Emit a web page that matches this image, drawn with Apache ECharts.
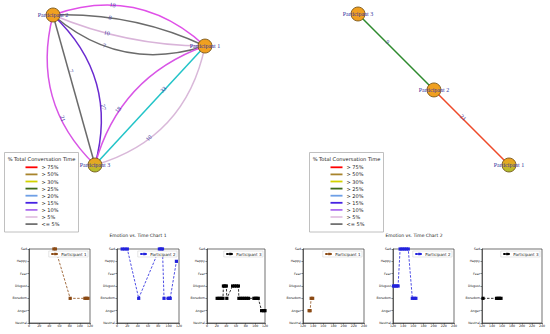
<!DOCTYPE html>
<html><head><meta charset="utf-8">
<script src="https://cdn.jsdelivr.net/npm/echarts@6/dist/echarts.min.js"></script>
<style>html,body{margin:0;padding:0;background:#fff}#c{width:550px;height:334px}</style>
</head><body><div id="c"></div>
<script>
// ---------- data ----------
const emotionLevels = ['Neutral','Anger','Boredom','Disgust','Fear','Happy','Sad'];
const timeRange1 = [0, 120];
const timeRange2 = [120, 240];

// Emotion vs. Time Chart 1  ([time, emotion index])
const chart1Participant1 = [[49,6],[52,6],[81,2],[110,2],[113,2],[116,2]];
const chart1Participant2 = [[10,6],[15,6],[20,6],[42,2],[82,6],[85,6],[88,6],[91,2],[99,2],[101,2],[103,2],[115,5]];
const chart1Participant3 = [[21,2],[25,2],[29,2],[33,2],[34,3],[37,3],[40,3],[41,2],[53,3],[57,3],[61,3],[65,3],[66,2],[70,2],[74,2],[78,2],[82,2],[86,2],[97,2],[100,2],[103,2],[106,2],[113,1],[117,1],[120,1]];
// Emotion vs. Time Chart 2
const chart2Participant1 = [[132,1],[134,1],[136,2],[139,2]];
const chart2Participant2 = [[121,3],[124,3],[127,3],[130,3],[134,6],[138,6],[142,6],[146,6],[150,6],[158,2],[162,2],[165,2]];
const chart2Participant3 = [[122,2],[149,2],[152,2],[155,2],[158,2]];

// Conversation networks: node layout positions (unit layout space)
const net1Nodes = ['Participant 2','Participant 1','Participant 3'];
const net1Layout = [[0,1],[1,0.793],[0.276,0]];
const net1Source = ['Participant 2','Participant 2','Participant 2','Participant 2','Participant 2','Participant 3','Participant 3','Participant 1','Participant 3','Participant 3'];
const net1Target = ['Participant 1','Participant 1','Participant 1','Participant 1','Participant 3','Participant 2','Participant 2','Participant 3','Participant 1','Participant 1'];
const net1Weight = [18,8,10,7,7,27,21,33,18,10];

const net2Nodes = ['Participant 3','Participant 2','Participant 1'];
const net2Layout = [[0,1],[0.503,0.497],[1,0]];
const net2Source = ['Participant 3','Participant 2'];
const net2Target = ['Participant 2','Participant 1'];
const net2Weight = [9,21];

const pctLabels = ['> 75%','> 50%','> 30%','> 25%','> 20%','> 15%','> 10%','> 5%','<= 5%'];

// ---------- styles ----------
const pctColors = ['#ff0000','#a8842c','#d2d200','#3f6a1e','#6e9fe6','#4622e2','#ae6ef0','#e2c2e2','#727272'];
const net1EdgeColor = ['#e050e8','#6b6b6b','#d9b4d9','#6b6b6b','#6b6b6b','#6a2ad0','#d855e6','#22c4c8','#d855e6','#d9b8d9'];
const net1Curve = [0.3,0.12,-0.1,-0.28,0,-0.3,0.29,0,0.26,-0.3];
const net2EdgeColor = ['#2e8a2e','#ee4a2a'];
const net2Curve = [0,0];
const edgeLabelPos = 0.36;
const participantColor = {'Participant 1':'#8b4a14','Participant 2':'#2222dd','Participant 3':'#000000'};
const nodeFill = '#f0a020';
const tintFill = {type:'linear',x:0,y:0,x2:0,y2:1,colorStops:[{offset:0,color:'#f0a020'},{offset:0.55,color:'#d6b024'},{offset:1,color:'#a8c030'}]};

const smallGrids = [
  {left:29,width:61},{left:117,width:62},{left:207,width:58},
  {left:303,width:61},{left:393,width:61},{left:482,width:60}
];
const smallSeries = [
  ['Participant 1', chart1Participant1, timeRange1],
  ['Participant 2', chart1Participant2, timeRange1],
  ['Participant 3', chart1Participant3, timeRange1],
  ['Participant 1', chart2Participant1, timeRange2],
  ['Participant 2', chart2Participant2, timeRange2],
  ['Participant 3', chart2Participant3, timeRange2]
];

const grid = [], xAxis = [], yAxis = [], series = [], legend = [];
const axisCol = '#333';
smallGrids.forEach((g,i)=>{
  grid.push({left:g.left, width:g.width, top:249, height:74, show:true, borderColor:axisCol, borderWidth:0.7});
  const [name, data, range] = smallSeries[i];
  xAxis.push({type:'value', gridIndex:i, min:range[0], max:range[1], interval:20,
    axisLine:{show:true, lineStyle:{color:axisCol, width:0.7}},
    axisTick:{show:true, length:1.5, lineStyle:{color:axisCol, width:0.6}},
    axisLabel:{fontSize:3.2, color:'#222', margin:1.5, fontFamily:'DejaVu Sans'},
    splitLine:{show:false}});
  yAxis.push({type:'value', gridIndex:i, min:0, max:6, interval:1,
    axisLine:{show:true, lineStyle:{color:axisCol, width:0.7}},
    axisTick:{show:true, length:1.5, lineStyle:{color:axisCol, width:0.6}},
    axisLabel:{fontSize:3.2, color:'#222', margin:2, fontFamily:'DejaVu Sans', formatter:v=>emotionLevels[v]},
    splitLine:{show:false}});
  const col = participantColor[name];
  series.push({type:'line', name, xAxisIndex:i, yAxisIndex:i, data, symbol:'rect', symbolSize:3.2,
    clip:false, lineStyle:{type:[2.5,1.5], width:0.8, color:col}, itemStyle:{color:col}, z:2});
  legend.push({top:251, right:550-(g.left+g.width)+2, data:[name], itemWidth:8, itemHeight:3, itemGap:2,
    selectedMode:false, padding:[1,1.5], borderColor:'#ccc', borderWidth:0.5, backgroundColor:'#fff',
    textStyle:{fontSize:4, color:'#222', fontFamily:'DejaVu Sans', padding:[0,0,0,-3]}});
});

// network grids
grid.push({left:53, width:152, top:15, height:150});
grid.push({left:358, width:151, top:14, height:151});
[6,7].forEach(i=>{
  xAxis.push({type:'value', gridIndex:i, min:0, max:1, show:false});
  yAxis.push({type:'value', gridIndex:i, min:0, max:1, show:false});
});

function netSeries(idx, nodes, layout, src, tgt, w, colors, curves, tinted, offsets) {
  return {
    type:'graph', name:'Network '+(idx-5), coordinateSystem:'cartesian2d', xAxisIndex:idx, yAxisIndex:idx,
    symbolSize:14, z:3, roam:false, draggable:false,
    data: nodes.map((n,k)=>({name:n, value:layout[k], itemStyle:{color: n===tinted ? tintFill : nodeFill}})),
    links: src.map((s,k)=>({source:s, target:tgt[k], value:w[k],
      lineStyle:{color:colors[k], curveness:curves[k], width:1.5, opacity:1},
      label: offsets ? {offset:offsets[k]} : {}})),
    itemStyle:{borderColor:'#6b4a10', borderWidth:0.8},
    label:{show:true, position:'inside', formatter:'{b}', fontSize:6, color:'#34349e', fontFamily:'Liberation Serif'},
    edgeLabel:{show:true, formatter:'{c}', fontSize:6, color:'#3c3ca0', fontFamily:'Liberation Serif', distance:-2.7},
    emphasis:{disabled:true}
  };
}
function allNets(off1, off2) {
  return [
    netSeries(6, net1Nodes, net1Layout, net1Source, net1Target, net1Weight, net1EdgeColor, net1Curve, 'Participant 3', off1),
    netSeries(7, net2Nodes, net2Layout, net2Source, net2Target, net2Weight, net2EdgeColor, net2Curve, 'Participant 1', off2)
  ];
}

function pctLegend(x0) {
  const children = [{type:'rect', shape:{x:x0, y:152.5, width:74, height:79.5}, style:{fill:'#fff', stroke:'#b0b0b0', lineWidth:0.8}}];
  children.push({type:'text', x:x0+37, y:158.5, style:{text:'% Total Conversation Time', align:'center', verticalAlign:'middle', fontSize:5.1, fill:'#222', fontFamily:'DejaVu Sans'}});
  pctLabels.forEach((lab,i)=>{
    const y = 167.3 + i*7.1;
    children.push({type:'line', shape:{x1:x0+21, y1:y, x2:x0+33, y2:y}, style:{stroke:pctColors[i], lineWidth:1.8}});
    children.push({type:'text', x:x0+37, y:y, style:{text:lab, fontSize:5, fill:'#222', verticalAlign:'middle', fontFamily:'DejaVu Sans'}});
  });
  return {type:'group', children};
}

const chart = echarts.init(document.getElementById('c'), null, {renderer:'svg'});
const baseOption = {
  animation:false,
  backgroundColor:'#fff',
  title:[
    {text:'Emotion vs. Time Chart 1', left:138, top:233, textAlign:'center', padding:0,
     textStyle:{fontSize:4.5, fontWeight:'normal', color:'#222', fontFamily:'DejaVu Sans'}},
    {text:'Emotion vs. Time Chart 2', left:414, top:233, textAlign:'center', padding:0,
     textStyle:{fontSize:4.5, fontWeight:'normal', color:'#222', fontFamily:'DejaVu Sans'}}
  ],
  grid, xAxis, yAxis, series: series.concat(allNets()), legend,
  graphic:[pctLegend(4.5), pctLegend(309.5)]
};
chart.setOption(baseOption);

// shift each edge label from the curve's middle to its label position along the curve
// (offset is expressed in the label's rotated frame, aligned with the chord)
function labelOffsets(gridIndex, nodes, layout, src, tgt, curves) {
  const px = {};
  nodes.forEach((n,k)=>{ px[n] = chart.convertToPixel({gridIndex}, layout[k]); });
  return src.map((s,k)=>{
    const p1 = px[s], p2 = px[tgt[k]], c = curves[k];
    const cp = [(p1[0]+p2[0])/2 - (p1[1]-p2[1])*c, (p1[1]+p2[1])/2 - (p2[0]-p1[0])*c];
    const B = t => [(1-t)*(1-t)*p1[0]+2*t*(1-t)*cp[0]+t*t*p2[0], (1-t)*(1-t)*p1[1]+2*t*(1-t)*cp[1]+t*t*p2[1]];
    const a = B(0.5), b = B(edgeLabelPos);
    const d = [b[0]-a[0], b[1]-a[1]];
    let ang = Math.atan2(p2[1]-p1[1], p2[0]-p1[0]);
    if (p2[0] < p1[0]) ang += Math.PI;
    const cs = Math.cos(ang), sn = Math.sin(ang);
    return [d[0]*cs + d[1]*sn, -d[0]*sn + d[1]*cs];
  });
}
const off1 = labelOffsets(6, net1Nodes, net1Layout, net1Source, net1Target, net1Curve);
const off2 = labelOffsets(7, net2Nodes, net2Layout, net2Source, net2Target, net2Curve);
chart.setOption({series: series.concat(allNets(off1, off2))});
</script></body></html>
